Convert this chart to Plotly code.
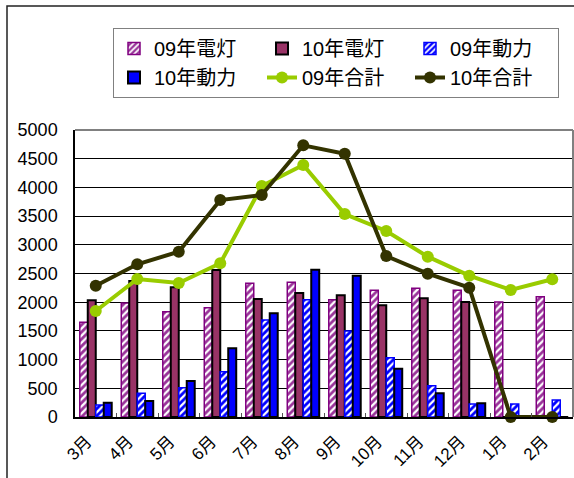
import plotly.graph_objects as go

months = ["3月", "4月", "5月", "6月", "7月", "8月", "9月", "10月", "11月", "12月", "1月", "2月"]
light09 = [1650, 1986, 1835, 1905, 2329, 2346, 2044, 2207, 2242, 2207, 2003, 2096]
light10 = [2033, 2369, 2259, 2561, 2056, 2160, 2120, 1945, 2067, 2003, 0, 0]
power09 = [209, 412, 511, 790, 1690, 2044, 1498, 1034, 546, 226, 226, 296]
power10 = [250, 279, 627, 1196, 1806, 2567, 2462, 842, 412, 238, 0, 0]
total09 = [1847, 2404, 2334, 2677, 4024, 4390, 3537, 3240, 2793, 2462, 2213, 2399]
total10 = [2288, 2660, 2880, 3780, 3868, 4733, 4587, 2805, 2497, 2253, 0, 0]
yticks = [0, 500, 1000, 1500, 2000, 2500, 3000, 3500, 4000, 4500, 5000]

FONT = "Liberation Sans, Arial, Noto Sans CJK JP, sans-serif"
W, H = 574, 478
L, R, T, B = 75, 1, 130, 61
PW, PH = W - L - R, H - T - B

fig = go.Figure()
fig.add_trace(go.Bar(
    x=months, y=light09, name="09年電灯",
    marker=dict(color="#800080", line=dict(color="#800080", width=1.5),
                pattern=dict(shape="/", fgcolor="white", bgcolor="#993399",
                             fillmode="replace", size=5, solidity=0.45)),
))
fig.add_trace(go.Bar(
    x=months, y=light10, name="10年電灯",
    marker=dict(color="#993366", line=dict(color="black", width=2)),
))
fig.add_trace(go.Bar(
    x=months, y=power09, name="09年動力",
    marker=dict(color="#0000FF", line=dict(color="#0000FF", width=1.5),
                pattern=dict(shape="/", fgcolor="white", bgcolor="#0000FF",
                             fillmode="replace", size=5, solidity=0.45)),
))
fig.add_trace(go.Bar(
    x=months, y=power10, name="10年動力",
    marker=dict(color="#0000FF", line=dict(color="black", width=2)),
))
fig.add_trace(go.Scatter(
    x=months, y=total09, name="09年合計", mode="lines+markers", cliponaxis=False,
    line=dict(color="#99CC00", width=4), marker=dict(color="#99CC00", size=12),
))
fig.add_trace(go.Scatter(
    x=months, y=total10, name="10年合計", mode="lines+markers", cliponaxis=False,
    line=dict(color="#333300", width=4), marker=dict(color="#333300", size=12),
))

# outer chart frame
fig.add_shape(type="rect", xref="paper", yref="paper",
              x0=-(L - 7) / PW, x1=1.2, y0=-0.5, y1=(H - B - 6) / PH,
              line=dict(color="#222222", width=1.5), layer="below")

fig.update_layout(
    width=W, height=H,
    margin=dict(l=L, r=R, t=T, b=B, autoexpand=False),
    paper_bgcolor="white", plot_bgcolor="white",
    font=dict(family=FONT, size=15, color="black"),
    barmode="group", bargap=0.23, bargroupgap=0.0,
    showlegend=True,
    legend=dict(orientation="h", x=(113 - L) / PW, xanchor="left",
                y=(H - B - 28) / PH, yanchor="top",
                bordercolor="#808080", borderwidth=1, bgcolor="white",
                entrywidth=103, entrywidthmode="pixels",
                font=dict(size=20, family="Liberation Sans, Noto Sans CJK JP, sans-serif"),
                tracegroupgap=0, traceorder="normal"),
    xaxis=dict(type="category", range=[-0.5, len(months) - 0.5], tickangle=-45,
               showline=True, linecolor="black",
               linewidth=1.5, mirror=False, ticks="inside", ticklen=4,
               tickson="boundaries", tickcolor="#555555", showgrid=False,
               automargin=False, ticklabelstandoff=6, ticklabelshift=-9,
               tickfont=dict(size=17, family="Liberation Sans, Noto Sans CJK JP, sans-serif")),
    yaxis=dict(range=[0, 5000], tickvals=yticks, showgrid=True,
               gridcolor="black", gridwidth=1, showline=True, linecolor="black",
               linewidth=1.5, ticks="", tickfont=dict(size=18), zeroline=False,
               automargin=False, ticklabelstandoff=12),
)
# gray top/right plot border
fig.add_shape(type="line", xref="paper", yref="paper", x0=0, x1=1, y0=1, y1=1,
              line=dict(color="#808080", width=2))
fig.add_shape(type="line", xref="paper", yref="paper", x0=1, x1=1, y0=0, y1=1,
              line=dict(color="#808080", width=2))

fig.write_html("out.html", config={"displayModeBar": False},
               post_script="document.body.style.margin='0';")
